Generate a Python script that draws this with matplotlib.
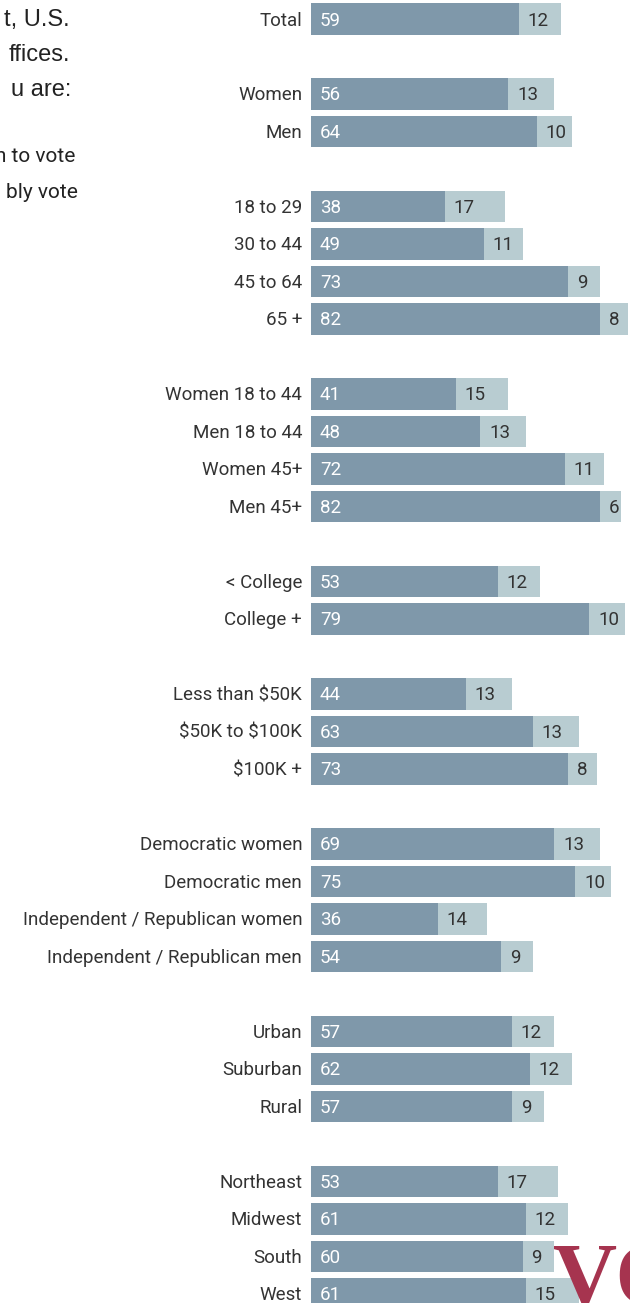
import matplotlib
matplotlib.use("Agg")
import matplotlib.pyplot as plt

labels = ["Total",
          "Women", "Men",
          "18 to 29", "30 to 44", "45 to 64", "65 +",
          "Women 18 to 44", "Men 18 to 44", "Women 45+", "Men 45+",
          "< College", "College +",
          "Less than \\$50K", "\\$50K to \\$100K", "\\$100K +",
          "Democratic women", "Democratic men",
          "Independent / Republican women", "Independent / Republican men",
          "Urban", "Suburban", "Rural",
          "Northeast", "Midwest", "South", "West"]
certain = [59, 56, 64, 38, 49, 73, 82, 41, 48, 72, 82, 53, 79, 44, 63, 73,
           69, 75, 36, 54, 57, 62, 57, 53, 61, 60, 61]
probably = [12, 13, 10, 17, 11, 9, 8, 15, 13, 11, 6, 12, 10, 13, 13, 8,
            13, 10, 14, 9, 12, 12, 9, 17, 12, 9, 15]
group_sizes = [1, 2, 4, 4, 2, 3, 4, 3, 4]

dark = "#7f98aa"
light = "#b8ccd1"
txt = "#333333"

# row positions, one empty row between groups
rows = []
k = 0
for g in group_sizes:
    for i in range(g):
        rows.append(k)
        k += 1
    k += 1

fig = plt.figure(figsize=(6.3, 13.03), dpi=100)
ax = fig.add_axes([311 / 630, 0, 1 - 311 / 630, 1])
ax.set_xlim(0, 319 / 3.525)
ax.set_ylim((1303 - 19) / 37.5, -19 / 37.5)
ax.axis("off")

ax.barh(rows, certain, height=0.83, color=dark)
ax.barh(rows, probably, left=certain, height=0.83, color=light)

for y, lab, c, p in zip(rows, labels, certain, probably):
    ax.text(-2.5, y + 0.04, lab, ha="right", va="center", fontsize=13.5,
            family="Roboto", color=txt, clip_on=False)
    ax.text(2.5, y + 0.04, str(c), ha="left", va="center", fontsize=13.5,
            family="Roboto", color="white")
    ax.text(c + 2.5, y + 0.04, str(p), ha="left", va="center", fontsize=13.5,
            family="Roboto", color=txt)

# cut-off intro text at the left
fig.text(70 / 630, 1 - 20 / 1303, "t, U.S.", ha="right", va="center",
         fontsize=17, family="Liberation Sans", color="#222222")
fig.text(70 / 630, 1 - 55 / 1303, "ffices.", ha="right", va="center",
         fontsize=17, family="Liberation Sans", color="#222222")
fig.text(71 / 630, 1 - 90 / 1303, "u are:", ha="right", va="center",
         fontsize=17, family="Liberation Sans", color="#222222")
fig.text(75 / 630, 1 - 157 / 1303, "n to vote", ha="right", va="center",
         fontsize=15, family="Roboto", color="#222222")
fig.text(78 / 630, 1 - 193 / 1303, "bly vote", ha="right", va="center",
         fontsize=15, family="Roboto", color="#222222")

# logo, partly cut off
fig.text(553 / 630, 1 - 1305 / 1303, "VO", ha="left", va="baseline",
         fontsize=64, family="Liberation Serif", weight="bold",
         color="#a6344f")

fig.savefig("out.png", dpi=100)
